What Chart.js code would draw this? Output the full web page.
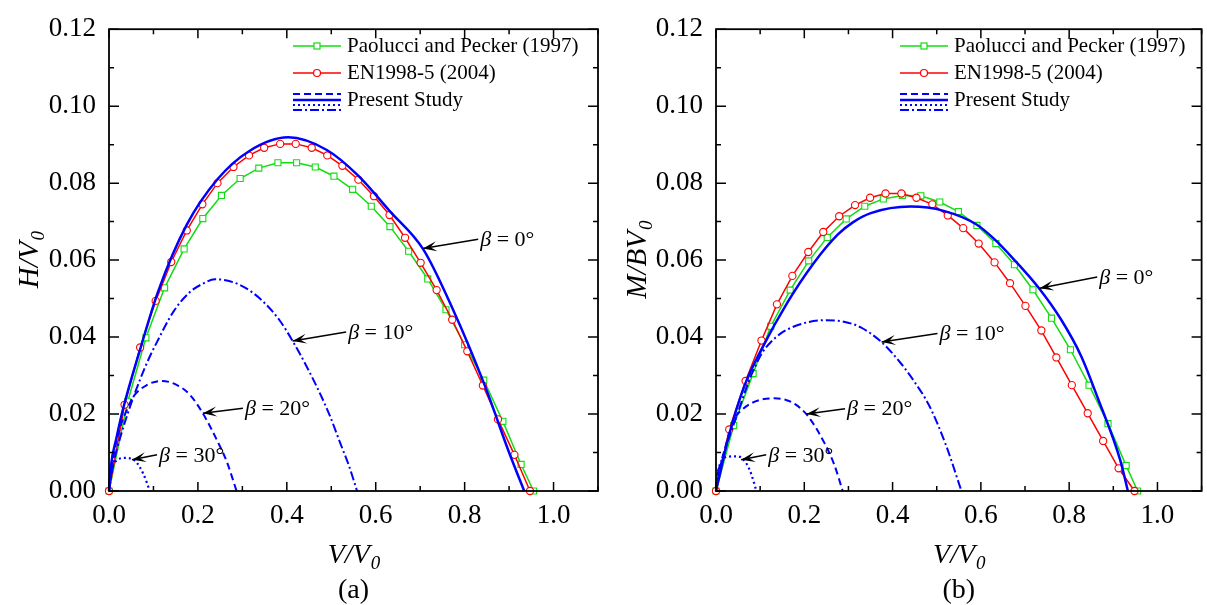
<!DOCTYPE html>
<html>
<head>
<meta charset="utf-8">
<script src="https://cdn.jsdelivr.net/npm/chart.js@4.4.0/dist/chart.umd.min.js"></script>
<style>
body{margin:0;background:#fff;width:1207px;height:605px;overflow:hidden;position:relative}
canvas{position:absolute;top:0}
</style>
</head>
<body>
<canvas id="chartA" width="604" height="605" style="left:0"></canvas>
<canvas id="chartB" width="603" height="605" style="left:604px"></canvas>
<script>
// ticks
let xTicks=[0,0.2,0.4,0.6,0.8,1.0];
let yTicks=[0,0.02,0.04,0.06,0.08,0.10,0.12];
let legendLabels=['Paolucci and Pecker (1997)','EN1998-5 (2004)','Present Study'];

// panel (a)  H/V0
let paoVa=[0,0.042,0.083,0.125,0.169,0.211,0.253,0.295,0.337,0.380,0.422,0.464,0.506,0.548,0.590,0.632,0.674,0.717,0.758,0.800,0.843,0.886,0.927,0.955];
let paoHa=[0,0.0232,0.0398,0.0528,0.0629,0.0708,0.0768,0.0812,0.0839,0.0853,0.0853,0.0842,0.0818,0.0784,0.0740,0.0687,0.0623,0.0551,0.0471,0.0380,0.0288,0.0181,0.0069,0];
let enVa=[0,0.035,0.070,0.105,0.140,0.175,0.210,0.244,0.280,0.315,0.349,0.385,0.420,0.456,0.491,0.525,0.561,0.596,0.631,0.666,0.701,0.737,0.772,0.806,0.841,0.875,0.912,0.947];
let enHa=[0,0.0224,0.0373,0.0494,0.0595,0.0677,0.0745,0.0800,0.0842,0.0872,0.0892,0.0902,0.0902,0.0892,0.0872,0.0845,0.0809,0.0766,0.0717,0.0658,0.0593,0.0522,0.0445,0.0363,0.0274,0.0186,0.0094,0];
let b0Va=[0,0.004,0.017,0.032,0.07,0.111,0.175,0.244,0.315,0.403,0.49,0.56,0.631,0.707,0.774,0.845,0.90,0.934];
let b0Ha=[0,0.0062,0.0139,0.0215,0.0368,0.052,0.0692,0.081,0.0883,0.0919,0.0886,0.082,0.0728,0.0628,0.0471,0.0275,0.0100,0];
let b10Va=[0,0.008,0.017,0.032,0.05,0.07,0.09,0.107,0.145,0.182,0.21,0.238,0.265,0.295,0.32,0.347,0.384,0.413,0.444,0.474,0.497,0.52,0.54,0.558];
let b10Ha=[0,0.006,0.0105,0.0165,0.0228,0.029,0.0345,0.0385,0.0466,0.0517,0.0538,0.0550,0.0547,0.0535,0.0518,0.0492,0.0443,0.039,0.0325,0.0255,0.0195,0.0125,0.0065,0];
let b20Va=[0,0.006,0.0125,0.0247,0.04,0.0547,0.0847,0.1184,0.152,0.182,0.212,0.242,0.265,0.287];
let b20Ha=[0,0.0055,0.0105,0.0164,0.021,0.0245,0.0275,0.0286,0.0276,0.0250,0.0200,0.0134,0.0076,0];
let b30Va=[0,0.003,0.008,0.017,0.036,0.058,0.077,0.092];
let b30Ha=[0,0.004,0.0064,0.0079,0.0086,0.0079,0.0045,0];

// panel (b)  M/BV0
let paoVb=[0,0.040,0.084,0.124,0.168,0.210,0.252,0.295,0.337,0.379,0.422,0.464,0.507,0.549,0.591,0.634,0.676,0.718,0.760,0.803,0.845,0.888,0.929,0.955];
let paoMb=[0,0.0170,0.0305,0.0428,0.0522,0.0598,0.0659,0.0707,0.0740,0.0759,0.0768,0.0767,0.0751,0.0726,0.0690,0.0643,0.0588,0.0523,0.0449,0.0367,0.0275,0.0175,0.0066,0];
let enVb=[0,0.030,0.067,0.103,0.138,0.173,0.209,0.243,0.279,0.315,0.349,0.384,0.420,0.454,0.490,0.525,0.560,0.595,0.631,0.666,0.701,0.737,0.771,0.806,0.842,0.877,0.912,0.948];
let enMb=[0,0.016,0.0286,0.0391,0.0485,0.0559,0.0621,0.0673,0.0714,0.0743,0.0762,0.0773,0.0773,0.0762,0.0745,0.0716,0.0683,0.0643,0.0594,0.054,0.0481,0.0417,0.0347,0.0275,0.0202,0.0130,0.0059,0];
let b0Vb=[0,0.01,0.028,0.065,0.103,0.163,0.22,0.2755,0.31,0.3506,0.4407,0.5158,0.591,0.63,0.673,0.733,0.782,0.827,0.865,0.916,0.933];
let b0Mb=[0,0.005,0.0139,0.0275,0.0368,0.0492,0.0590,0.0666,0.0698,0.0722,0.0739,0.0728,0.0692,0.0655,0.0604,0.0525,0.0445,0.0351,0.0241,0.0079,0];
let b10Vb=[0,0.004,0.012,0.03,0.05,0.07,0.088,0.105,0.125,0.15,0.178,0.21,0.25,0.29,0.328,0.375,0.42,0.45,0.482,0.52,0.556];
let b10Mb=[0,0.0045,0.0075,0.014,0.0205,0.0272,0.0322,0.036,0.0388,0.0412,0.0428,0.0439,0.0444,0.0440,0.0425,0.0387,0.0330,0.0283,0.0224,0.0122,0];
let b20Vb=[0,0.008,0.02,0.043,0.06,0.08,0.105,0.133,0.16,0.18,0.208,0.2455,0.268,0.287];
let b20Mb=[0,0.0055,0.011,0.019,0.0212,0.0228,0.0238,0.0241,0.0236,0.0225,0.0195,0.0125,0.0068,0];
let b30Vb=[0,0.004,0.0128,0.0278,0.045,0.058,0.0766,0.0916];
let b30Mb=[0,0.0045,0.0079,0.0089,0.009,0.0086,0.0054,0];

// arrows + beta labels (tip, tail in data units)
let notesA=[
  {tip:[0.706,0.0630],tail:[0.8305,0.0654],txt:'0°'},
  {tip:[0.413,0.039],tail:[0.5335,0.0413],txt:'10°'},
  {tip:[0.211,0.0202],tail:[0.3013,0.0215],txt:'20°'},
  {tip:[0.0518,0.0081],tail:[0.108,0.0094],txt:'30°'}
];
let notesB=[
  {tip:[0.733,0.0527],tail:[0.8635,0.0556],txt:'0°'},
  {tip:[0.375,0.0387],tail:[0.5016,0.0409],txt:'10°'},
  {tip:[0.205,0.0200],tail:[0.2923,0.0214],txt:'20°'},
  {tip:[0.057,0.0081],tail:[0.1137,0.0094],txt:'30°'}
];

const FONT="'Liberation Serif','Times New Roman',serif";
const BLUE='#0000ff', RED='#ff0000', GREEN='#11dd11';
const DASH=[7,4], DOT=[2,3], DASHDOT=[9,3,2,3];

function pts(xs,ys){ return xs.map((v,i)=>({x:v,y:ys[i]})); }

function arrow(ctx,x1,y1,x2,y2){
  ctx.beginPath(); ctx.moveTo(x1,y1); ctx.lineTo(x2,y2);
  ctx.lineWidth=1.5; ctx.strokeStyle='#000'; ctx.setLineDash([]); ctx.stroke();
  let a=Math.atan2(y2-y1,x2-x1), c=Math.cos(a), s=Math.sin(a), L=14, W=5;
  ctx.beginPath();
  ctx.moveTo(x2,y2);
  ctx.lineTo(x2-L*c+W*s, y2-L*s-W*c);
  ctx.lineTo(x2-0.55*L*c, y2-0.55*L*s);
  ctx.lineTo(x2-L*c-W*s, y2-L*s+W*c);
  ctx.closePath(); ctx.fillStyle='#000'; ctx.fill();
}

let extras={
  id:'extras',
  afterDraw(chart,args,o){
    let ctx=chart.ctx, a=chart.chartArea, x=chart.scales.x, y=chart.scales.y;
    ctx.save();
    // ticks inward on four sides
    ctx.strokeStyle='#000'; ctx.lineWidth=1.5; ctx.setLineDash([]);
    ctx.beginPath();
    for(let i=0;i<=11;i++){
      let px=x.getPixelForValue(i/10), len=(i%2==0)?9:5;
      ctx.moveTo(px,a.bottom); ctx.lineTo(px,a.bottom-len);
      ctx.moveTo(px,a.top); ctx.lineTo(px,a.top+len);
    }
    for(let j=0;j<=12;j++){
      let py=y.getPixelForValue(j/100), len=(j%2==0)?10:5;
      ctx.moveTo(a.left,py); ctx.lineTo(a.left+len,py);
      ctx.moveTo(a.right,py); ctx.lineTo(a.right-len,py);
    }
    ctx.stroke();
    ctx.lineWidth=1.8;
    ctx.strokeRect(a.left,a.top,a.right-a.left,a.bottom-a.top);

    // legend
    let lx=a.left+184, lw=48, tx=lx+lw+6;
    ctx.font='21px '+FONT; ctx.fillStyle='#000'; ctx.textBaseline='middle'; ctx.textAlign='left';
    let rows=[46,73,100];
    ctx.lineWidth=1.5;
    ctx.strokeStyle=GREEN; ctx.beginPath(); ctx.moveTo(lx,rows[0]); ctx.lineTo(lx+lw,rows[0]); ctx.stroke();
    ctx.fillStyle='#fff'; ctx.lineWidth=1.2; ctx.fillRect(lx+lw/2-3,rows[0]-3,6,6); ctx.strokeRect(lx+lw/2-3,rows[0]-3,6,6);
    ctx.strokeStyle=RED; ctx.lineWidth=1.5; ctx.beginPath(); ctx.moveTo(lx,rows[1]); ctx.lineTo(lx+lw,rows[1]); ctx.stroke();
    ctx.beginPath(); ctx.arc(lx+lw/2,rows[1],3.5,0,Math.PI*2); ctx.fill(); ctx.lineWidth=1.2; ctx.stroke();
    ctx.strokeStyle=BLUE;
    [[DASH,rows[2]-6,2],[[],rows[2],2.5],[DOT,rows[2]+5,2],[DASHDOT,rows[2]+10,2]].forEach(r=>{
      ctx.setLineDash(r[0]); ctx.lineWidth=r[2];
      ctx.beginPath(); ctx.moveTo(lx,r[1]); ctx.lineTo(lx+lw,r[1]); ctx.stroke();
    });
    ctx.setLineDash([]);
    ctx.fillStyle='#000';
    legendLabels.forEach((t,i)=>ctx.fillText(t,tx,rows[i]));

    // arrows and beta labels
    o.notes.forEach(n=>{
      let x1=x.getPixelForValue(n.tail[0]), y1=y.getPixelForValue(n.tail[1]);
      let x2=x.getPixelForValue(n.tip[0]), y2=y.getPixelForValue(n.tip[1]);
      arrow(ctx,x1,y1,x2,y2);
      ctx.fillStyle='#000'; ctx.textBaseline='middle';
      ctx.font='italic 22px '+FONT;
      ctx.fillText('β',x1+2,y1+1);
      let w=ctx.measureText('β').width;
      ctx.font='22px '+FONT;
      ctx.fillText(' = '+n.txt,x1+2+w,y1+1);
    });

    // x title V/V0 and panel label
    let cx=(a.left+a.right)/2;
    ctx.textBaseline='alphabetic'; ctx.textAlign='left';
    ctx.font='italic 28px '+FONT;
    let w1=ctx.measureText('V/V').width;
    ctx.font='italic 19px '+FONT;
    let w2=ctx.measureText('0').width;
    let sx=cx-(w1+w2)/2;
    ctx.font='italic 28px '+FONT; ctx.fillText('V/V',sx,563);
    ctx.font='italic 19px '+FONT; ctx.fillText('0',sx+w1+1,569);
    ctx.font='28px '+FONT; ctx.textAlign='center';
    ctx.fillText(o.panel,cx,598);

    // y title
    ctx.translate(o.yTitleX,(a.top+a.bottom)/2);
    ctx.rotate(-Math.PI/2);
    ctx.textAlign='left';
    ctx.font='italic 29px '+FONT;
    let w3=ctx.measureText(o.yTitle).width;
    ctx.font='italic 19px '+FONT;
    let w4=ctx.measureText('0').width;
    let sy=-(w3+w4)/2;
    ctx.font='italic 29px '+FONT; ctx.fillText(o.yTitle,sy,0);
    ctx.font='italic 19px '+FONT; ctx.fillText('0',sy+w3+1,6);
    ctx.restore();
  }
};

function makeChart(id,d,opt){
  let datasets=[
    {data:pts(d.b0v,d.b0y),borderColor:BLUE,borderWidth:2.5,pointRadius:0,cubicInterpolationMode:'monotone',order:0},
    {data:pts(d.b10v,d.b10y),borderColor:BLUE,borderWidth:2,borderDash:DASHDOT,pointRadius:0,cubicInterpolationMode:'monotone',order:0},
    {data:pts(d.b20v,d.b20y),borderColor:BLUE,borderWidth:2,borderDash:DASH,pointRadius:0,cubicInterpolationMode:'monotone',order:0},
    {data:pts(d.b30v,d.b30y),borderColor:BLUE,borderWidth:2.2,borderDash:DOT,pointRadius:0,cubicInterpolationMode:'monotone',order:0},
    {data:pts(d.enV,d.enY),borderColor:RED,borderWidth:1.5,pointStyle:'circle',pointRadius:3.6,pointBorderWidth:1.1,pointBorderColor:RED,pointBackgroundColor:'#fff',order:1},
    {data:pts(d.paoV,d.paoY),borderColor:GREEN,borderWidth:1.5,pointStyle:'rect',pointRadius:4.3,pointBorderWidth:1.1,pointBorderColor:GREEN,pointBackgroundColor:'#fff',order:2}
  ];
  datasets.forEach(s=>{s.clip=false; s.fill=false;});
  return new Chart(id,{
    type:'line',
    data:{datasets:datasets},
    options:{
      responsive:false, animation:false, events:[],
      layout:{padding:{left:0,top:21,right:opt.padRight,bottom:0}},
      plugins:{legend:{display:false},tooltip:{enabled:false},
        extras:{notes:opt.notes,panel:opt.panel,yTitle:opt.yTitle,yTitleX:opt.yTitleX}},
      scales:{
        x:{type:'linear',min:0,max:1.1,
           grid:{display:false,drawTicks:false},border:{display:false},
           ticks:{font:{family:FONT,size:27},color:'#000',padding:9,maxRotation:0,callback:v=>v.toFixed(1)},
           afterBuildTicks:s=>{s.ticks=xTicks.map(v=>({value:v}));},
           afterFit:s=>{s.height=114;}},
        y:{type:'linear',min:0,max:0.12,
           grid:{display:false,drawTicks:false},border:{display:false},
           ticks:{font:{family:FONT,size:27},color:'#000',padding:13,callback:v=>v.toFixed(2)},
           afterBuildTicks:s=>{s.ticks=yTicks.map(v=>({value:v}));},
           afterFit:s=>{s.width=opt.axisW;}}
      }
    },
    plugins:[extras]
  });
}

makeChart('chartA',
  {paoV:paoVa,paoY:paoHa,enV:enVa,enY:enHa,b0v:b0Va,b0y:b0Ha,b10v:b10Va,b10y:b10Ha,b20v:b20Va,b20y:b20Ha,b30v:b30Va,b30y:b30Ha},
  {notes:notesA,panel:'(a)',yTitle:'H/V',yTitleX:38,axisW:109,padRight:6});
makeChart('chartB',
  {paoV:paoVb,paoY:paoMb,enV:enVb,enY:enMb,b0v:b0Vb,b0y:b0Mb,b10v:b10Vb,b10y:b10Mb,b20v:b20Vb,b20y:b20Mb,b30v:b30Vb,b30y:b30Mb},
  {notes:notesB,panel:'(b)',yTitle:'M/BV',yTitleX:42,axisW:112,padRight:2});
</script>
</body>
</html>
